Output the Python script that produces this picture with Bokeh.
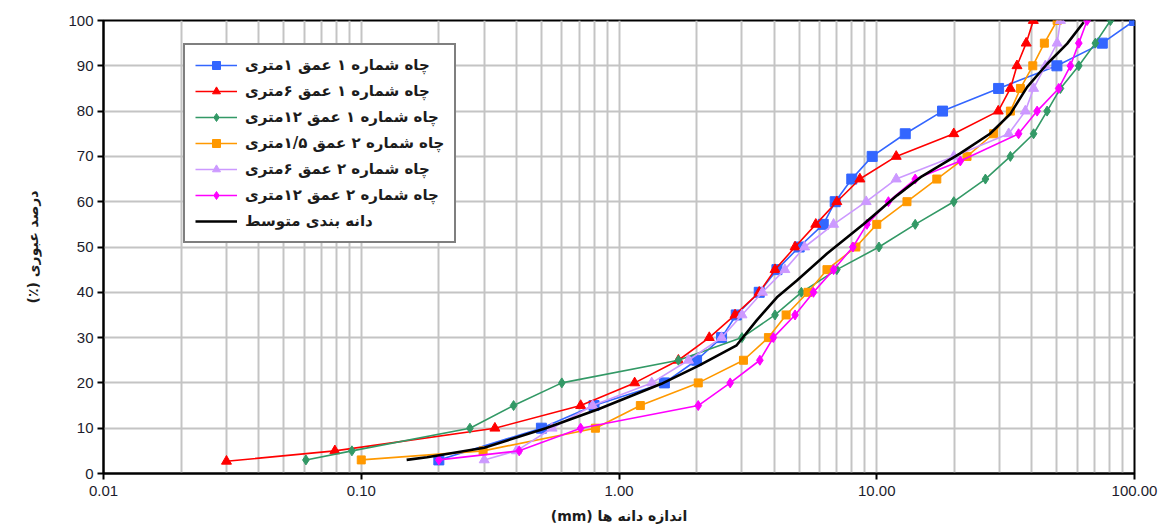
from bokeh.plotting import figure
from bokeh.models import FixedTicker, CustomJSTickFormatter, Legend, LegendItem
from bokeh.embed import file_html
from bokeh.resources import INLINE

# ---- data ----
w1_1_x = [0.2, 0.5, 0.8, 1.5, 2.0, 2.5, 2.85, 3.5, 4.1, 5.0, 6.2, 6.9, 8.0, 9.6, 12.9, 18.0, 29.7, 50.0, 75.0, 100.0]
w1_1_y = [3, 10, 15, 20, 25, 30, 35, 40, 45, 50, 55, 60, 65, 70, 75, 80, 85, 90, 95, 100]

w1_6_x = [0.03, 0.079, 0.33, 0.71, 1.15, 1.7, 2.24, 2.82, 3.5, 4.03, 4.82, 5.8, 7.0, 8.6, 11.9, 19.9, 29.6, 33.0, 35.0, 38.0, 40.5]
w1_6_y = [2.7, 5, 10, 15, 20, 25, 30, 35, 40, 45, 50, 55, 60, 65, 70, 75, 80, 85, 90, 95, 100]

w1_12_x = [0.061, 0.092, 0.264, 0.39, 0.6, 1.7, 3.0, 4.03, 5.1, 7.0, 10.2, 14.1, 19.9, 26.4, 33.0, 40.6, 45.8, 51.6, 60.8, 70.5, 80.7]
w1_12_y = [3, 5, 10, 15, 20, 25, 30, 35, 40, 45, 50, 55, 60, 65, 70, 75, 80, 85, 90, 95, 100]

w2_15_x = [0.1, 0.297, 0.81, 1.21, 2.03, 3.04, 3.8, 4.45, 5.41, 6.41, 8.3, 10.0, 13.1, 17.1, 22.4, 28.4, 33.0, 36.1, 40.3, 44.7, 50.1]
w2_15_y = [3, 5, 10, 15, 20, 25, 30, 35, 40, 45, 50, 55, 60, 65, 70, 75, 80, 85, 90, 95, 100]

w2_6_x = [0.3, 0.4, 0.55, 0.79, 1.34, 1.86, 2.5, 3.0, 3.6, 4.4, 5.25, 6.8, 9.1, 11.9, 19.9, 32.5, 37.7, 40.6, 45.1, 50.1, 51.6]
w2_6_y = [3, 5, 10, 15, 20, 25, 30, 35, 40, 45, 50, 55, 60, 65, 70, 75, 80, 85, 90, 95, 100]

w2_12_x = [0.2, 0.41, 0.71, 2.03, 2.7, 3.52, 3.97, 4.82, 5.68, 6.8, 8.08, 9.16, 11.1, 14.1, 21.1, 35.5, 41.9, 50.8, 56.4, 60.8, 65.5]
w2_12_y = [3, 5, 10, 15, 20, 25, 30, 35, 40, 45, 50, 55, 60, 65, 69, 75, 80, 85, 90, 95, 100]

avg_x = [0.15, 0.18, 0.3, 0.52, 0.84, 1.46, 2.04, 2.86, 3.42, 4.1, 4.9, 6.4, 8.9, 12.0, 14.8, 21.0, 27.5, 33.0, 38.3, 45.8, 54.8, 63.5]
avg_y = [3, 3.6, 5.7, 10, 14.3, 19.8, 23.8, 28.3, 33.8, 38.9, 42.6, 48.5, 55.1, 61.4, 65.4, 70.6, 75, 79.4, 85.3, 90.4, 94.9, 99.6]

labels = [
    "چاه شماره ۱ عمق ۱متری",
    "چاه شماره ۱ عمق ۶متری",
    "چاه شماره ۱ عمق ۱۲متری",
    "چاه شماره ۲ عمق ۱/۵متری",
    "چاه شماره ۲ عمق ۶متری",
    "چاه شماره ۲ عمق ۱۲متری",
    "دانه بندی متوسط",
]
x_major_ticks = [0.01, 0.1, 1, 10, 100]
y_ticks = [0, 10, 20, 30, 40, 50, 60, 70, 80, 90, 100]
# right-to-left embedding so the parenthesised part sits on the left, as in the original
x_title = "\u202bاندازه دانه ها (mm)\u202c"
y_title = "\u202bدرصد عبوری (٪)\u202c"

# ---- figure ----
p = figure(width=1168, height=528, x_axis_type="log", x_range=(0.01, 100), y_range=(0, 100),
           output_backend="svg", toolbar_location=None,
           min_border_left=103, min_border_right=34, min_border_top=20, min_border_bottom=55)
p.background_fill_color = "white"
p.border_fill_color = "white"
p.outline_line_color = "black"
p.outline_line_width = 2

minor = []
for d in [0.01, 0.1, 1, 10]:
    for k in range(2, 10):
        minor.append(d * k)

p.xaxis.ticker = FixedTicker(ticks=x_major_ticks, minor_ticks=minor)
p.xaxis.formatter = CustomJSTickFormatter(code="return tick.toFixed(2);")
p.yaxis.ticker = FixedTicker(ticks=y_ticks)

grid_col = "#c4c4c4"
p.xgrid.grid_line_color = grid_col
p.xgrid.grid_line_width = 2
p.xgrid.minor_grid_line_color = grid_col
p.xgrid.minor_grid_line_width = 2
p.ygrid.grid_line_color = grid_col
p.ygrid.grid_line_width = 2

for ax in (p.xaxis, p.yaxis):
    ax.axis_line_color = "black"
    ax.axis_line_width = 2
    ax.major_tick_line_color = "black"
    ax.major_tick_line_width = 2
    ax.major_tick_out = 6
    ax.major_tick_in = 0
    ax.minor_tick_line_color = None
    ax.major_label_text_font = "Liberation Sans"
    ax.major_label_text_font_size = "15px"
    ax.major_label_text_color = "#1c1c2c"
    ax.axis_label_text_font = "DejaVu Sans"
    ax.axis_label_text_font_size = "14px"
    ax.axis_label_text_font_style = "bold"
    ax.axis_label_text_color = "#1c1c1c"

p.xaxis.axis_label = x_title
p.yaxis.axis_label = y_title
p.xaxis.major_label_standoff = 6
p.yaxis.major_label_standoff = 4
p.xaxis.axis_label_standoff = 9
p.yaxis.axis_label_standoff = 24

series = [
    (w1_1_x, w1_1_y, "#3366ff", "square", 10),
    (w1_6_x, w1_6_y, "#ff0000", "triangle", 10),
    (w1_12_x, w1_12_y, "#339966", "diamond", 10),
    (w2_15_x, w2_15_y, "#ff9900", "square", 8),
    (w2_6_x, w2_6_y, "#cc99ff", "triangle", 10),
    (w2_12_x, w2_12_y, "#ff00ff", "diamond", 10),
]

items = []
for (xs, ys, col, mk, sz), lab in zip(series, labels):
    r1 = p.line(xs, ys, line_color=col, line_width=1.6)
    r2 = p.scatter(xs, ys, marker=mk, size=sz, fill_color=col, line_color=col)
    items.append(LegendItem(label=lab, renderers=[r1, r2]))

ra = p.line(avg_x, avg_y, line_color="black", line_width=2.6)
items.append(LegendItem(label=labels[6], renderers=[ra]))

legend = Legend(items=items, location=(80, 230))
legend.border_line_color = "black"
legend.border_line_width = 2
legend.background_fill_color = "white"
legend.background_fill_alpha = 1
legend.label_text_font = "DejaVu Sans"
legend.label_text_font_size = "15px"
legend.label_text_font_style = "bold"
legend.label_text_color = "#1c1c1c"
legend.glyph_width = 42
legend.glyph_height = 20
legend.label_height = 20
legend.label_standoff = 8
legend.spacing = 6
legend.padding = 10
legend.margin = 0
p.add_layout(legend, "center")

open("out.html", "w").write(file_html(p, INLINE))
